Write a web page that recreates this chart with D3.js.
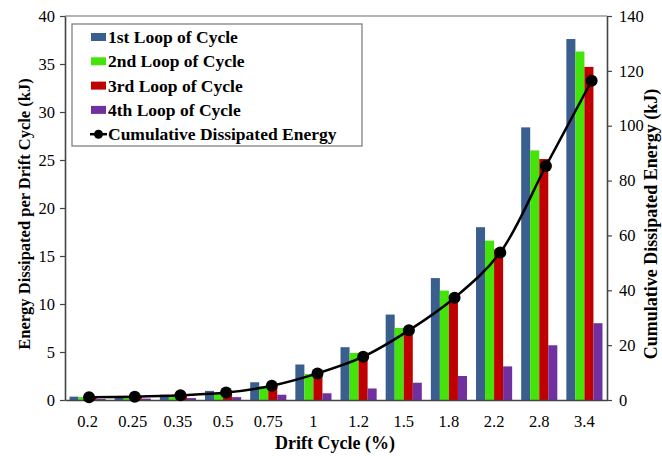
<!DOCTYPE html>
<html>
<head>
<meta charset="utf-8">
<script src="https://cdn.jsdelivr.net/npm/d3@7"></script>
<style>
  body { margin: 0; background: #fff; }
</style>
</head>
<body>
<div id="chart"></div>
<script>
// data
const driftCycles = ["0.2", "0.25", "0.35", "0.5", "0.75", "1", "1.2", "1.5", "1.8", "2.2", "2.8", "3.4"];
const seriesNames = ["1st Loop of Cycle", "2nd Loop of Cycle", "3rd Loop of Cycle", "4th Loop of Cycle"];
const loop1 = [0.35, 0.4, 0.55, 0.95, 1.85, 3.7, 5.5, 8.9, 12.7, 18.0, 28.4, 37.6];
const loop2 = [0.3, 0.35, 0.5, 0.7, 1.45, 2.7, 4.9, 7.5, 11.4, 16.6, 26.0, 36.3];
const loop3 = [0.25, 0.3, 0.45, 0.65, 1.35, 2.5, 4.4, 7.1, 10.8, 15.7, 25.1, 34.7];
const loop4 = [0.1, 0.15, 0.2, 0.3, 0.55, 0.7, 1.2, 1.8, 2.5, 3.5, 5.7, 8.0];
const cumulative = [1.0, 1.2, 1.7, 2.7, 5.2, 9.7, 15.8, 25.4, 37.3, 53.8, 85.3, 116.4];
const leftTicks = [0, 5, 10, 15, 20, 25, 30, 35, 40];
const rightTicks = [0, 20, 40, 60, 80, 100, 120, 140];

const colors = ["#3a5f8f", "#44e30a", "#c00000", "#7030a0"];
const loops = [loop1, loop2, loop3, loop4];
const serif = "'Liberation Serif', 'DejaVu Serif', 'Times New Roman', serif";

// svg container
const svgWidth = 662, svgHeight = 456;
const margin = { top: 16, right: 55, bottom: 56, left: 65 };
const chartWidth = svgWidth - margin.left - margin.right;
const chartHeight = svgHeight - margin.top - margin.bottom;

const svg = d3.select("#chart").append("svg")
  .attr("width", svgWidth)
  .attr("height", svgHeight)
  .attr("font-family", serif);

const chartGroup = svg.append("g")
  .attr("transform", `translate(${margin.left}, ${margin.top})`);

// scales
const xScale = d3.scaleBand()
  .domain(driftCycles)
  .range([0, chartWidth])
  .paddingInner(0.2)
  .paddingOuter(0.1);

const xSub = d3.scaleBand()
  .domain(d3.range(4))
  .range([0, xScale.bandwidth()]);

// secondary category axis (slightly shifted, as in the original)
const xLine = d3.scaleBand()
  .domain(driftCycles)
  .range([1.2, chartWidth + 7.5]);

const yScale = d3.scaleLinear().domain([0, 40]).range([chartHeight, 0]);
const y2Scale = d3.scaleLinear().domain([0, 140]).range([chartHeight, 0]);

// plot frame (top line)
chartGroup.append("line")
  .attr("x1", 0).attr("x2", chartWidth)
  .attr("y1", 0).attr("y2", 0)
  .attr("stroke", "#6b6b6b").attr("stroke-width", 1.2);

// bars
const groups = chartGroup.selectAll(".group")
  .data(driftCycles)
  .enter()
  .append("g")
  .attr("transform", d => `translate(${xScale(d)}, 0)`);

groups.selectAll("rect")
  .data((d, i) => loops.map((s, k) => ({ k: k, v: s[i] })))
  .enter()
  .append("rect")
  .attr("x", d => xSub(d.k))
  .attr("y", d => yScale(d.v))
  .attr("width", xSub.bandwidth())
  .attr("height", d => chartHeight - yScale(d.v))
  .attr("fill", d => colors[d.k]);

// axes
const yAxis = d3.axisLeft(yScale).tickValues(leftTicks).tickSize(5).tickSizeOuter(0);
const y2Axis = d3.axisRight(y2Scale).tickValues(rightTicks).tickSize(5).tickSizeOuter(0);
const xAxis = d3.axisBottom(xScale).tickSize(0).tickSizeOuter(0);

const gx = chartGroup.append("g")
  .attr("transform", `translate(0, ${chartHeight})`)
  .call(xAxis);
gx.selectAll("text").attr("dy", 0).attr("y", 27).attr("font-size", 16.5).attr("fill", "#000");

const gy = chartGroup.append("g").call(yAxis);
gy.selectAll("text").attr("x", -10).attr("font-size", 16.5).attr("fill", "#000");

const gy2 = chartGroup.append("g")
  .attr("transform", `translate(${chartWidth}, 0)`)
  .call(y2Axis);
gy2.selectAll("text").attr("x", 12).attr("font-size", 16.5).attr("fill", "#000");

[gx, gy, gy2].forEach(g => {
  g.attr("font-family", serif);
  g.selectAll(".domain").attr("stroke", "#444").attr("stroke-width", 1.6);
  g.selectAll(".tick line").attr("stroke", "#444").attr("stroke-width", 1.2);
});

// cumulative line
const line = d3.line()
  .x((d, i) => xLine(driftCycles[i]) + xLine.bandwidth() / 2)
  .y(d => y2Scale(d))
  .curve(d3.curveCatmullRom.alpha(0.5));

chartGroup.append("path")
  .datum(cumulative)
  .attr("d", line)
  .attr("fill", "none")
  .attr("stroke", "#000")
  .attr("stroke-width", 2.5);

chartGroup.selectAll(".marker")
  .data(cumulative)
  .enter()
  .append("circle")
  .attr("cx", (d, i) => xLine(driftCycles[i]) + xLine.bandwidth() / 2)
  .attr("cy", d => y2Scale(d))
  .attr("r", 6)
  .attr("fill", "#000");

// axis titles
svg.append("text")
  .attr("transform", "translate(30, 214) rotate(-90)")
  .attr("text-anchor", "middle")
  .attr("font-size", 16.5)
  .attr("font-weight", "bold")
  .text("Energy Dissipated per Drift Cycle (kJ)");

svg.append("text")
  .attr("transform", "translate(657, 224) rotate(-90)")
  .attr("text-anchor", "middle")
  .attr("font-size", 18)
  .attr("font-weight", "bold")
  .text("Cumulative Dissipated Energy (kJ)");

svg.append("text")
  .attr("x", 335)
  .attr("y", 449)
  .attr("text-anchor", "middle")
  .attr("font-size", 18)
  .attr("font-weight", "bold")
  .text("Drift Cycle (%)");

// legend
const legend = svg.append("g").attr("transform", "translate(72, 24)");
legend.append("rect")
  .attr("width", 290).attr("height", 122)
  .attr("fill", "#fff")
  .attr("stroke", "#777").attr("stroke-width", 1.2);

const legendItems = seriesNames.concat(["Cumulative Dissipated Energy"]);
legendItems.forEach((name, i) => {
  const row = legend.append("g").attr("transform", `translate(0, ${13 + i * 24.3})`);
  if (i < 4) {
    row.append("rect")
      .attr("x", 19).attr("y", -4)
      .attr("width", 15).attr("height", 8)
      .attr("fill", colors[i]);
  } else {
    row.append("line")
      .attr("x1", 18).attr("x2", 35)
      .attr("stroke", "#000").attr("stroke-width", 2.5);
    row.append("circle").attr("cx", 26.5).attr("r", 4.5).attr("fill", "#000");
  }
  row.append("text")
    .attr("x", 36)
    .attr("y", 6)
    .attr("font-size", 17.5)
    .attr("font-weight", "bold")
    .text(name);
});
</script>
</body>
</html>
